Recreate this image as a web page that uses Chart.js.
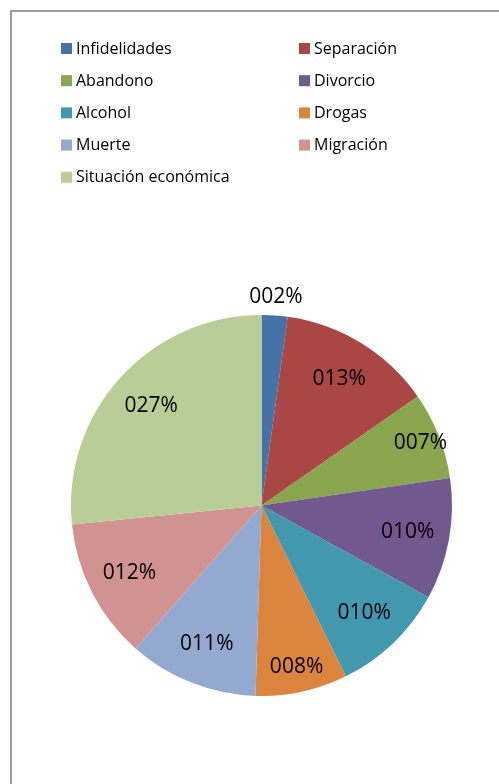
<!DOCTYPE html>
<html>
<head>
<meta charset="utf-8">
<script src="https://cdn.jsdelivr.net/npm/chart.js@4/dist/chart.umd.min.js"></script>
<style>
  html, body { margin: 0; padding: 0; background: #fff; overflow: hidden; }
  #wrap { position: absolute; left: 0; top: 0; width: 499px; height: 784px; }
</style>
</head>
<body>
<div id="wrap"><canvas id="chart"></canvas></div>
<script>
// Causas (porcentajes, las etiquetas muestran el valor redondeado)
const categories = ['Infidelidades', 'Separación', 'Abandono', 'Divorcio', 'Alcohol',
    'Drogas', 'Muerte', 'Migración', 'Situación económica'];
const values = [2.2, 13.1, 7.4, 10.3, 9.7, 7.8, 11.0, 11.9, 26.6];
const colors = ['#4572A7', '#AA4643', '#89A54E', '#71588F', '#4198AF',
    '#DB843D', '#93A9CF', '#D19392', '#B9CD96'];

const FONT = '"Open Sans", "Liberation Sans", sans-serif';

// Marco gris del área del gráfico
const framePlugin = {
    id: 'frame',
    beforeDraw: function(chart) {
        const ctx = chart.ctx;
        ctx.save();
        ctx.strokeStyle = '#9c9c9c';
        ctx.lineWidth = 2;
        ctx.beginPath();
        ctx.moveTo(11, 800);
        ctx.lineTo(11, 11);
        ctx.lineTo(520, 11);
        ctx.stroke();
        ctx.restore();
    }
};

// Leyenda en dos columnas
const legendPlugin = {
    id: 'twoColLegend',
    afterDraw: function(chart) {
        const ctx = chart.ctx;
        const labels = chart.data.labels;
        const bg = chart.data.datasets[0].backgroundColor;
        ctx.save();
        ctx.font = '16px ' + FONT;
        ctx.textBaseline = 'middle';
        labels.forEach(function(label, i) {
            const col = i % 2;
            const row = Math.floor(i / 2);
            const x = col === 0 ? 61 : 299;
            const y = 48 + row * 32.2;
            ctx.fillStyle = bg[i];
            ctx.fillRect(x, y - 5, 11, 11);
            ctx.fillStyle = '#000';
            ctx.fillText(label, x + 15, y + 1);
        });
        ctx.restore();
    }
};

// Etiquetas de porcentaje sobre las porciones
const valueLabels = {
    id: 'valueLabels',
    afterDatasetsDraw: function(chart) {
        const ctx = chart.ctx;
        const meta = chart.getDatasetMeta(0);
        const data = chart.data.datasets[0].data;
        ctx.save();
        ctx.font = '21px ' + FONT;
        ctx.fillStyle = '#000';
        ctx.textAlign = 'center';
        ctx.textBaseline = 'middle';
        meta.data.forEach(function(arc, i) {
            const mid = (arc.startAngle + arc.endAngle) / 2;
            let r = arc.outerRadius * 0.78;
            if (data[i] < 4) {
                r = arc.outerRadius + 18;          // porción muy pequeña: fuera
            } else if (data[i] < 9) {
                r += (9 - data[i]) * 14;           // porciones estrechas: más afuera
            }
            const x = arc.x + Math.cos(mid) * r;
            const y = arc.y + Math.sin(mid) * r;
            const txt = String(Math.round(data[i])).padStart(3, '0') + '%';
            ctx.fillText(txt, x, y);
        });
        ctx.restore();
    }
};

const chart = new Chart(document.getElementById('chart'), {
    type: 'pie',
    data: {
        labels: categories,
        datasets: [{
            data: values,
            backgroundColor: colors,
            borderWidth: 0
        }]
    },
    options: {
        responsive: true,
        maintainAspectRatio: false,
        animation: false,
        layout: { padding: { left: 71, right: 47, top: 315, bottom: 88 } },
        plugins: {
            legend: { display: false },
            tooltip: { enabled: false }
        }
    },
    plugins: [framePlugin, legendPlugin, valueLabels]
});
</script>
</body>
</html>
